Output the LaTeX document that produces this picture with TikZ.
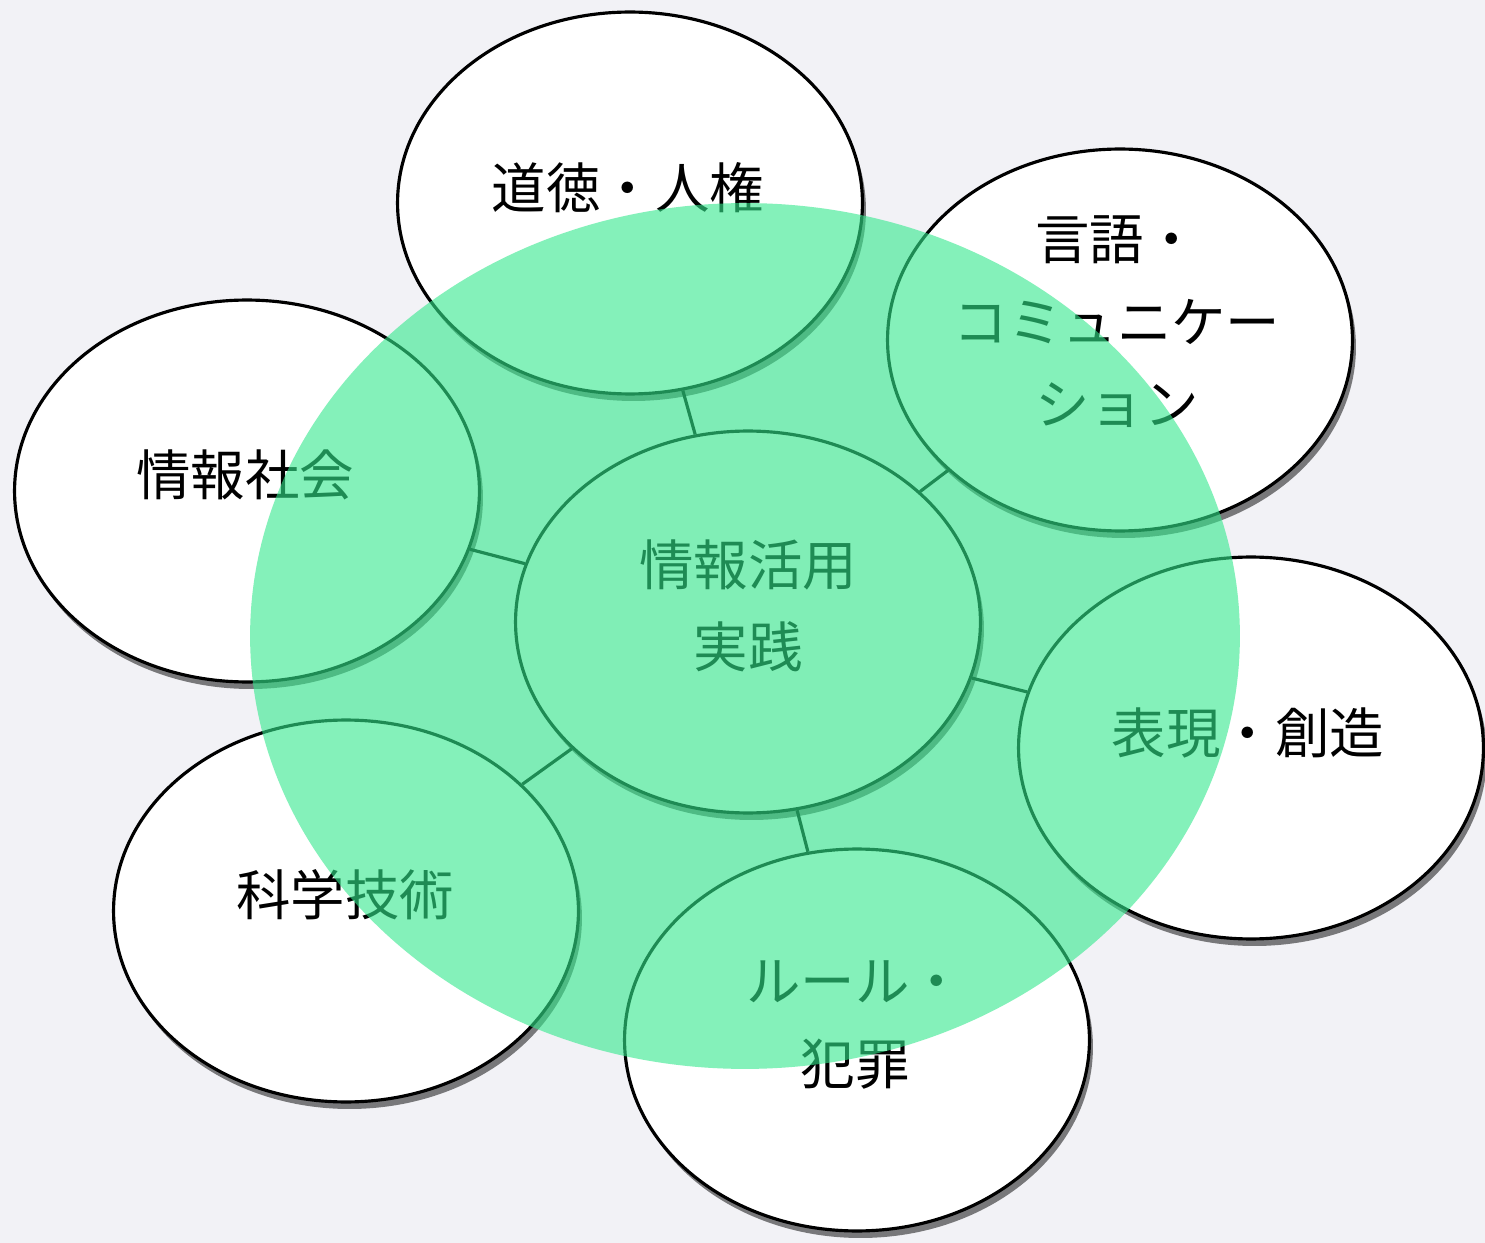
\documentclass[tikz,border=0pt]{standalone}
\usepackage{fontspec}
\setmainfont{Noto Sans CJK JP}
\usetikzlibrary{shapes.geometric,shadows}
\definecolor{bg}{RGB}{242,242,246}
\definecolor{mint}{RGB}{50,232,140}
\begin{document}
\begin{tikzpicture}[x=0.02cm,y=-0.02cm,
  bubble/.style={ellipse, draw=black, line width=1.8pt, fill=white,
    minimum width=9.3cm, minimum height=7.64cm, inner sep=0pt,
    drop shadow={shadow xshift=2pt, shadow yshift=-4pt, fill=black, opacity=0.5}},
  hub/.style={bubble, fill=white!97!black},
  lbl/.style={align=center, inner sep=0pt, font=\fontsize{31}{47}\selectfont},
  link/.style={line width=1.8pt, draw=black},
  overlay/.style={ellipse, fill=mint, fill opacity=0.6, draw=none,
    minimum width=19.8cm, minimum height=17.32cm, inner sep=0pt}]
\fill[bg] (0,0) rectangle (1485,1243);
\useasboundingbox (0,0) rectangle (1485,1243);
% outer topics
\node[bubble] (moral) at (630,203) {};
\node[bubble] (lang)  at (1120,340) {};
\node[bubble] (soc)   at (247,491) {};
\node[bubble] (expr)  at (1251,748) {};
\node[bubble] (sci)   at (346,911) {};
\node[bubble] (rule)  at (857,1040) {};
% centre
\node[hub] (core) at (748,622) {};
% connectors
\draw[link] (core) -- (moral);
\draw[link] (core) -- (lang);
\draw[link] (core) -- (soc);
\draw[link] (core) -- (expr);
\draw[link] (core) -- (sci);
\draw[link] (core) -- (rule);
% labels
\node[lbl] (tmoral) at (628,188) {道徳・人権};
\node[lbl] (tlang)  at (1117,322) {言語・\\コミュニケー\\ション};
\node[lbl] (tsoc)   at (245,475) {情報社会};
\node[lbl] (texpr)  at (1248,733) {表現・創造};
\node[lbl] (tsci)   at (345,895) {科学技術};
\node[lbl] (trule)  at (855,1025) {ルール・\\犯罪};
\node[lbl] (tcore)  at (748,606) {情報活用\\実践};
% translucent green field
\node[overlay] (field) at (745,636) {};
\end{tikzpicture}
\end{document}
